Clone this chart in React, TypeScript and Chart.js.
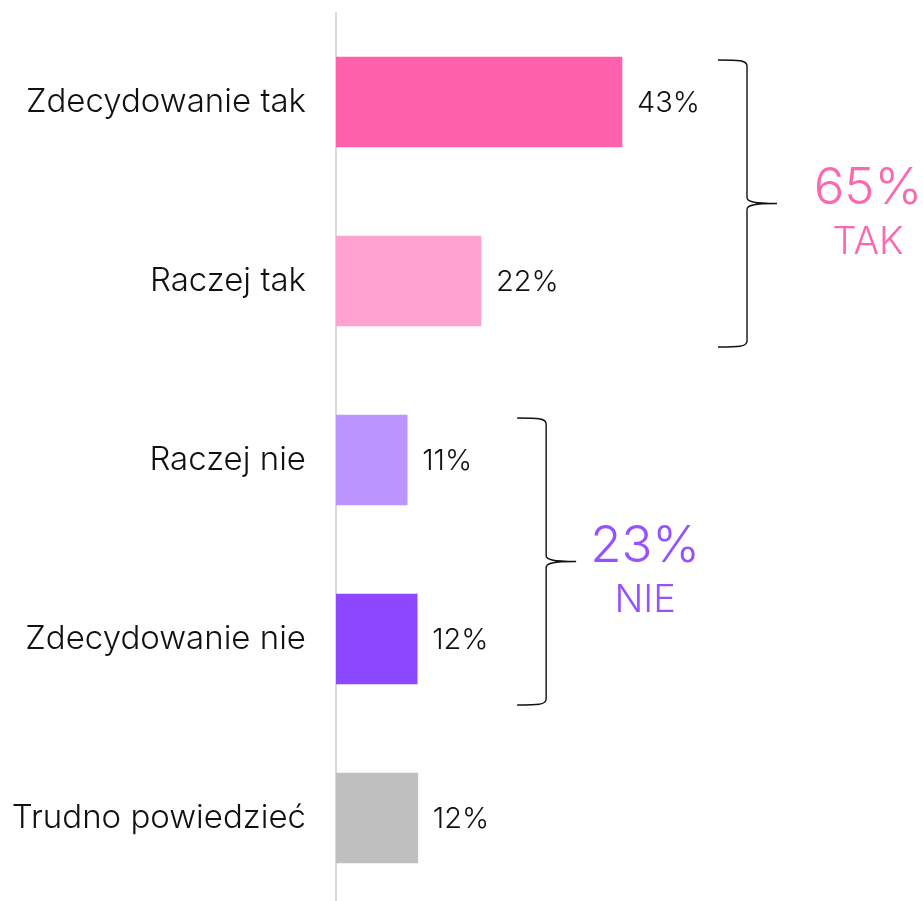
import { useEffect, useRef } from "react";
import { Chart, registerables } from "chart.js";

Chart.register(...registerables);

const categories = ["Zdecydowanie tak", "Raczej tak", "Raczej nie", "Zdecydowanie nie", "Trudno powiedzieć"];
const values = [43, 21.8, 10.7, 12.2, 12.3];
const valueLabels = ["43%", "22%", "11%", "12%", "12%"];
const barColors = ["#FF61AD", "#FFA2CF", "#BB94FF", "#8C47FF", "#BFBFBF"];

const groupNames = ["TAK", "NIE"];
const groupTotals = ["65%", "23%"];
const groupFirst = [0, 2];
const groupLast = [1, 3];
const groupColors = ["#FF66B0", "#9652FF"];

const FONT = "Inter, 'Noto Sans', sans-serif";
const WEIGHT = "300";

const annotationPlugin = {
  id: "annotations",
  afterDatasetsDraw(chart: any) {
    const ctx = chart.ctx;
    const bars = chart.getDatasetMeta(0).data;
    ctx.save();
    // value labels
    ctx.font = `${WEIGHT} 29px ${FONT}`;
    ctx.fillStyle = "#111";
    ctx.textAlign = "left";
    ctx.textBaseline = "middle";
    bars.forEach((b: any, i: number) => {
      ctx.fillText(valueLabels[i], b.x + 15, b.y + 1);
    });
    // braces
    const braceOffset = [96, 100];
    const textDx = [89, 69];
    groupNames.forEach((name, g) => {
      const b1 = bars[groupFirst[g]];
      const b2 = bars[groupLast[g]];
      const top = b1.y - b1.height / 2 + 3;
      const bottom = b2.y + b2.height / 2 + 21;
      const mid = (top + bottom) / 2;
      const xl = Math.max(b1.x, b2.x) + braceOffset[g];
      const xv = xl + 29;
      const xt = xv + 30;
      const r = 6;
      ctx.beginPath();
      ctx.strokeStyle = "#111";
      ctx.lineWidth = 1.4;
      ctx.moveTo(xl, top);
      ctx.bezierCurveTo(xl + 20, top, xv, top, xv, top + r);
      ctx.lineTo(xv, mid - r);
      ctx.bezierCurveTo(xv, mid - 2, xv + 6, mid, xt, mid);
      ctx.bezierCurveTo(xv + 6, mid, xv, mid + 2, xv, mid + r);
      ctx.lineTo(xv, bottom - r);
      ctx.bezierCurveTo(xv, bottom, xl + 20, bottom, xl, bottom);
      ctx.stroke();

      const cx = xt + textDx[g] + (g === 0 ? 2 : 0);
      ctx.fillStyle = groupColors[g];
      ctx.textAlign = "center";
      ctx.textBaseline = "alphabetic";
      ctx.font = `${WEIGHT} 51px ${FONT}`;
      ctx.fillText(groupTotals[g], cx, mid + 0);
      ctx.font = `${WEIGHT} 38px ${FONT}`;
      ctx.fillText(name, cx, mid + 50);
    });
    ctx.restore();
  },
};

export default function App() {
  const ref = useRef<HTMLCanvasElement | null>(null);
  useEffect(() => {
    if (!ref.current) return;
    const chart = new Chart(ref.current, {
      type: "bar",
      data: {
        labels: categories,
        datasets: [
          {
            data: values,
            backgroundColor: barColors,
            barThickness: 90,
            borderWidth: 0,
          },
        ],
      },
      options: {
        indexAxis: "y",
        animation: false,
        responsive: true,
        maintainAspectRatio: false,
        layout: { padding: { top: 12.5, bottom: 2.5, left: 0, right: 0 } },
        plugins: { legend: { display: false }, tooltip: { enabled: false } },
        scales: {
          x: { display: false, min: 0, max: 88.25 },
          y: {
            afterFit: (s: any) => {
              s.width = 336;
              s.paddingTop = 0;
              s.paddingBottom = 0;
            },
            grid: { display: true, color: "rgba(0,0,0,0)", drawTicks: false },
            border: { display: true, color: "#d9d9d9", width: 2 },
            ticks: { color: "#111", font: { family: FONT, size: 33, weight: WEIGHT }, padding: 30 },
          },
        },
      },
      plugins: [annotationPlugin],
    });
    return () => chart.destroy();
  }, []);
  return (
    <div style={{ position: "fixed", left: 0, top: 0, width: 923, height: 910, background: "#fff" }}>
      <canvas ref={ref} />
    </div>
  );
}
